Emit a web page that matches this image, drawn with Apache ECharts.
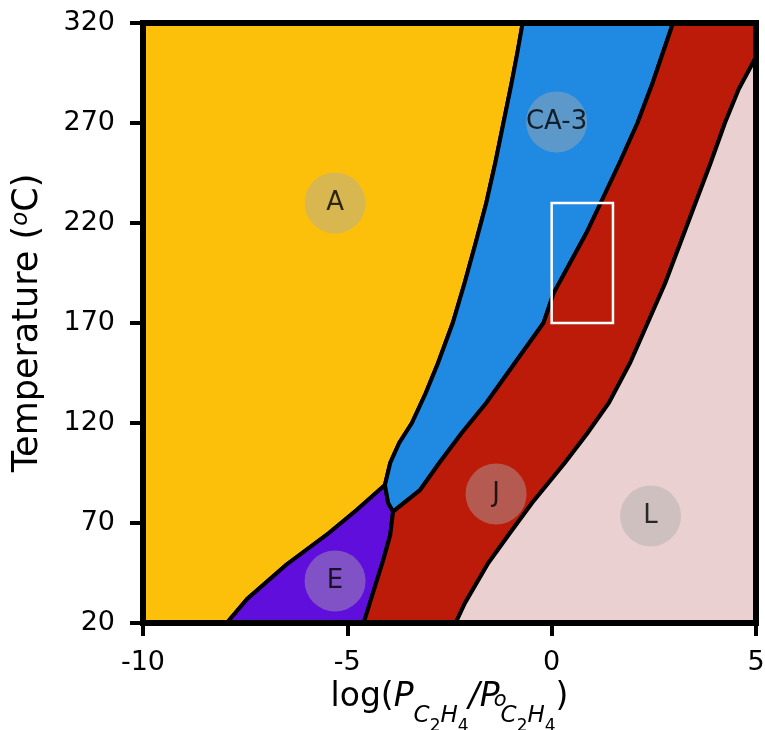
<!DOCTYPE html>
<html>
<head>
<meta charset="utf-8">
<script src="https://cdn.jsdelivr.net/npm/echarts@6/dist/echarts.min.js"></script>
<style>
html, body { margin: 0; padding: 0; background: #fff; }
#main { width: 765px; height: 730px; }
</style>
</head>
<body>
<div id="main"></div>
<script>
// phase boundaries as [log(P/P0), temperature in C], read bottom to top
var boundaryAE = [[-7.95, 20], [-7.45, 32], [-6.5, 49], [-5.45, 65], [-4.77, 76.5], [-4.08, 89]];
var boundaryEC = [[-3.88, 75.7], [-4.0, 80], [-4.08, 89]];
var boundaryAC = [[-4.08, 89], [-3.95, 100], [-3.73, 110], [-3.42, 120], [-3.08, 135], [-2.78, 150], [-2.42, 170],
    [-2.13, 190], [-1.86, 210], [-1.6, 230], [-1.38, 250], [-1.18, 270], [-0.98, 290], [-0.84, 305], [-0.71, 320]];
var boundaryEJ = [[-4.6, 20], [-4.41, 32.5], [-4.12, 51.5], [-3.95, 64], [-3.88, 75.7]];
var boundaryCJ = [[-3.88, 75.7], [-3.22, 86.5], [-2.75, 100], [-2.2, 115], [-1.6, 130], [-0.9, 150], [-0.2, 170],
    [0.05, 185], [0.45, 200], [0.85, 215], [1.2, 230], [1.66, 250], [2.1, 270], [2.47, 290], [2.72, 305], [2.97, 320]];
var boundaryJL = [[-2.35, 20], [-2.12, 30], [-1.55, 50], [-1.02, 65], [-0.48, 80], [0.32, 100], [0.88, 115],
    [1.4, 130], [1.92, 150], [2.35, 170], [2.78, 190], [3.15, 210], [3.52, 230], [3.89, 250], [4.24, 270],
    [4.58, 287], [5, 303]];

var phaseNames = ['A', 'E', 'CA-3', 'J', 'L'];
var phaseColors = ['#fdc00a', '#600edc', '#2089e2', '#bc1b0a', '#ebd0d1'];
// label circles: x, T, name
var phaseLabels = [[-5.3, 230, 'A'], [-5.3, 41, 'E'], [0.12, 270.5, 'CA-3'], [-1.36, 84.5, 'J'], [2.42, 73.5, 'L']];
// white box: x0, T0, x1, T1
var highlightBox = [[0, 170, 1.5, 230]];

var xMin = -10, xMax = 5;
var yMin = 20, yMax = 320;
var yTicks = [20, 70, 120, 170, 220, 270, 320];

var rev = function (a) { return a.slice().reverse(); };
var phasePolygons = {
    'A': [[xMin, yMin]].concat(boundaryAE, boundaryAC.slice(1), [[xMin, yMax]]),
    'E': boundaryAE.concat(rev(boundaryEC).slice(1), rev(boundaryEJ).slice(1)),
    'CA-3': boundaryAC.concat(rev(boundaryCJ), boundaryEC.slice(1, -1)),
    'J': boundaryEJ.concat(boundaryCJ.slice(1), [[xMax, yMax]], rev(boundaryJL)),
    'L': boundaryJL.concat([[xMax, yMin]])
};

var regionSeries = phaseNames.map(function (name, i) {
    var poly = phasePolygons[name];
    return {
        type: 'custom',
        name: name,
        z: 2,
        silent: true,
        data: poly,
        renderItem: function (params, api) {
            if (params.dataIndex !== 0) return null;
            var pts = poly.map(function (p) { return api.coord(p); });
            return {
                type: 'polygon',
                shape: { points: pts },
                style: { fill: phaseColors[i], stroke: '#000', lineWidth: 4, lineJoin: 'miter' }
            };
        }
    };
});

var myChart = echarts.init(document.getElementById('main'));
var axisLineStyle = { color: '#000', width: 6, cap: 'square' };

var option = {
    animation: false,
    textStyle: { fontFamily: 'DejaVu Sans' },
    grid: { left: 143, right: 9, top: 23, bottom: 107, outerBoundsMode: 'none', containLabel: false },
    xAxis: [{
        type: 'value', min: xMin, max: xMax, interval: 5, position: 'bottom', z: 10,
        axisLine: { show: true, onZero: false, lineStyle: axisLineStyle },
        axisTick: { show: true, length: 13, lineStyle: { color: '#000', width: 4 } },
        axisLabel: { color: '#000', fontSize: 27, fontFamily: 'DejaVu Sans', margin: 26 },
        splitLine: { show: false },
        name: '{t|log(}{i|P}{s|C}{d|2}{s|H}{d|4}{i|/P}{o|o}{s|C}{d|2}{s|H}{d|4}{t|)}',
        nameLocation: 'middle', nameGap: 54,
        nameTextStyle: {
            color: '#000', fontFamily: 'DejaVu Sans',
            rich: {
                t: { fontSize: 33, color: '#000', verticalAlign: 'top', fontFamily: 'DejaVu Sans' },
                i: { fontSize: 33, color: '#000', fontStyle: 'italic', verticalAlign: 'top', fontFamily: 'DejaVu Sans' },
                s: { fontSize: 23, color: '#000', fontStyle: 'italic', verticalAlign: 'top', padding: [24, 0, 0, 0], fontFamily: 'DejaVu Sans' },
                d: { fontSize: 17, color: '#000', verticalAlign: 'top', padding: [37, 0, 0, 0], fontFamily: 'DejaVu Sans' },
                o: { fontSize: 21, color: '#000', fontStyle: 'italic', verticalAlign: 'top', padding: [9, 0, 0, 0], width: 1, fontFamily: 'DejaVu Sans' }
            }
        }
    }, {
        type: 'value', min: xMin, max: xMax, position: 'top', z: 10,
        axisLine: { show: true, onZero: false, lineStyle: axisLineStyle },
        axisTick: { show: false }, axisLabel: { show: false }, splitLine: { show: false }
    }],
    yAxis: [{
        type: 'value', min: yMin, max: yMax, position: 'left', z: 10,
        axisLine: { show: true, onZero: false, lineStyle: axisLineStyle },
        axisTick: { show: true, length: 13, customValues: yTicks, lineStyle: { color: '#000', width: 4 } },
        axisLabel: { color: '#000', fontSize: 27, fontFamily: 'DejaVu Sans', margin: 28, customValues: yTicks },
        splitLine: { show: false },
        name: '{t|Temperature (}{o|o}{t|C)}',
        nameLocation: 'middle', nameGap: 98,
        nameTextStyle: {
            color: '#000', fontFamily: 'DejaVu Sans',
            rich: {
                t: { fontSize: 35, color: '#000', verticalAlign: 'top', fontFamily: 'DejaVu Sans' },
                o: { fontSize: 23, color: '#000', fontStyle: 'italic', verticalAlign: 'top', fontFamily: 'DejaVu Sans' }
            }
        }
    }, {
        type: 'value', min: yMin, max: yMax, position: 'right', z: 10,
        axisLine: { show: true, onZero: false, lineStyle: axisLineStyle },
        axisTick: { show: false }, axisLabel: { show: false }, splitLine: { show: false }
    }],
    series: regionSeries.concat([{
        type: 'custom',
        z: 4,
        silent: true,
        data: highlightBox,
        renderItem: function (params, api) {
            var p0 = api.coord([api.value(0), api.value(3)]);
            var p1 = api.coord([api.value(2), api.value(1)]);
            return {
                type: 'rect',
                shape: { x: p0[0], y: p0[1], width: p1[0] - p0[0], height: p1[1] - p0[1] },
                style: { fill: 'none', stroke: '#fff', lineWidth: 2.5 }
            };
        }
    }, {
        type: 'scatter',
        z: 5,
        silent: true,
        symbol: 'circle',
        symbolSize: 61,
        itemStyle: { color: 'rgba(170,170,170,0.55)' },
        label: {
            show: true, position: 'inside', color: '#000', fontSize: 26, fontFamily: 'DejaVu Sans',
            formatter: function (p) { return p.value[2]; }
        },
        data: phaseLabels
    }])
};

myChart.setOption(option);
</script>
</body>
</html>
